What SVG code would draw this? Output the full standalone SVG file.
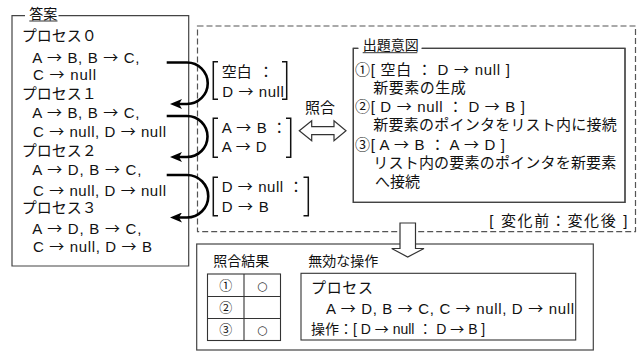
<svg xmlns="http://www.w3.org/2000/svg" width="639" height="352" viewBox="0 0 639 352">
<defs>
<style>
text { font-family: "Liberation Sans", "Noto Sans CJK JP", sans-serif; font-size: 15px; fill: #111; }
.ar, .cj { font-family: "Noto Sans CJK JP", sans-serif; }
.t14 { font-size: 14px; }
.num { font-size: 13px; font-family: "Noto Sans CJK JP", sans-serif; }
.ok { font-size: 12px; font-family: "DejaVu Sans", sans-serif; fill: #333; }
.mid { text-anchor: middle; }
.box { fill: #fff; stroke: #444; stroke-width: 1.2; }
.open { fill: none; stroke: #444; stroke-width: 1.2; }
.dash { fill: none; stroke: #555; stroke-width: 1.2; stroke-dasharray: 6 3; }
.ul { stroke: #333; stroke-width: 1; }
.br { fill: none; stroke: #111; stroke-width: 1.5; }
.curve { fill: none; stroke: #000; stroke-width: 2.6; }
.hollow { fill: #fff; stroke: #333; stroke-width: 1.2; }
.grid { fill: none; stroke: #333; stroke-width: 1.1; }
</style>
<marker id="ah" viewBox="0 0 12 10" refX="4" refY="5" markerWidth="12" markerHeight="10" markerUnits="userSpaceOnUse" orient="auto">
<path d="M0,0 L12,5 L0,10 L3,5 z" fill="#000"/>
</marker>
</defs>
<rect width="639" height="352" fill="#fff"/>

<!-- dashed area -->
<g id="compare-area">
<rect class="dash" x="197.5" y="26" width="438" height="205.7"/>
<text x="489.3" y="225.5" textLength="138" lengthAdjust="spacing">[ 変化前：変化後 ]</text>
</g>

<!-- answer box -->
<g id="answer">
<path class="open" d="M25,15.7 H12 V266 H188.7 V15.7 H58.5"/>
<text class="t14" x="29.3" y="18.5">答案</text>
<line class="ul" x1="29.3" y1="21" x2="57.5" y2="21"/>
<text class="cj" x="21.7" y="40.5">プロセス０</text>
<text x="32.3" y="63.3" textLength="107" lengthAdjust="spacing">A <tspan class="ar">→</tspan> B, B <tspan class="ar">→</tspan> C,</text>
<text x="33" y="80" textLength="63" lengthAdjust="spacing">C <tspan class="ar">→</tspan> null</text>
<text class="cj" x="21.7" y="99">プロセス１</text>
<text x="32.3" y="118.3" textLength="107" lengthAdjust="spacing">A <tspan class="ar">→</tspan> B, B <tspan class="ar">→</tspan> C,</text>
<text x="33" y="136.7" textLength="133" lengthAdjust="spacing">C <tspan class="ar">→</tspan> null, D <tspan class="ar">→</tspan> null</text>
<text class="cj" x="21.7" y="155.5">プロセス２</text>
<text x="32.3" y="175" textLength="109" lengthAdjust="spacing">A <tspan class="ar">→</tspan> D, B <tspan class="ar">→</tspan> C,</text>
<text x="33" y="195.7" textLength="133" lengthAdjust="spacing">C <tspan class="ar">→</tspan> null, D <tspan class="ar">→</tspan> null</text>
<text class="cj" x="21.7" y="212.5">プロセス３</text>
<text x="32.3" y="234" textLength="109" lengthAdjust="spacing">A <tspan class="ar">→</tspan> D, B <tspan class="ar">→</tspan> C,</text>
<text x="33" y="251.7" textLength="119" lengthAdjust="spacing">C <tspan class="ar">→</tspan> null, D <tspan class="ar">→</tspan> B</text>
</g>

<!-- bracket operations -->
<g id="op1">
<path class="br" d="M218,61.7 H213.3 V99.3 H218 M282,61.7 H286.7 V99.3 H282"/>
<text x="221.7" y="77">空白</text>
<text class="mid" x="266" y="77">：</text>
<text x="222.3" y="96.5" textLength="61.5" lengthAdjust="spacing">D <tspan class="ar">→</tspan> null</text>
</g>
<g id="op2">
<path class="br" d="M218,118.3 H213.3 V157.3 H218 M286,118.3 H290.7 V157.3 H286"/>
<text x="221.7" y="133.3" textLength="45" lengthAdjust="spacing">A <tspan class="ar">→</tspan> B</text>
<text class="mid" x="279.3" y="133.3">：</text>
<text x="221.7" y="151.7" textLength="45" lengthAdjust="spacing">A <tspan class="ar">→</tspan> D</text>
</g>
<g id="op3">
<path class="br" d="M218,177.3 H213.3 V215.7 H218 M303.5,177.3 H308.3 V215.7 H303.5"/>
<text x="221.7" y="191.7" textLength="61.5" lengthAdjust="spacing">D <tspan class="ar">→</tspan> null</text>
<text class="mid" x="296" y="191.7">：</text>
<text x="221.7" y="211.7" textLength="47" lengthAdjust="spacing">D <tspan class="ar">→</tspan> B</text>
</g>

<!-- intent box -->
<g id="intent">
<path class="box" d="M358.3,48.3 H353.3 V202.3 H625 V48.3 H421.7"/>
<path class="open" d="M358.3,48.3 H353.3 V202.3 H625 V48.3 H421.7"/>
<text class="t14" x="362.7" y="50">出題意図</text>
<line class="ul" x1="362.7" y1="52.7" x2="417.3" y2="52.7"/>
<text x="355" y="74.5" textLength="155" lengthAdjust="spacing"><tspan class="cj">①</tspan>[ 空白 ： D <tspan class="ar">→</tspan> null ]</text>
<text x="373.3" y="93" textLength="92.5" lengthAdjust="spacing">新要素の生成</text>
<text x="355" y="112" textLength="170" lengthAdjust="spacing"><tspan class="cj">②</tspan>[ D <tspan class="ar">→</tspan> null ： D <tspan class="ar">→</tspan> B ]</text>
<text x="373.3" y="130" textLength="243.5" lengthAdjust="spacing">新要素のポインタをリスト内に接続</text>
<text x="355" y="149.5" textLength="150" lengthAdjust="spacing"><tspan class="cj">③</tspan>[ A <tspan class="ar">→</tspan> B ： A <tspan class="ar">→</tspan> D ]</text>
<text x="373.3" y="168" textLength="243" lengthAdjust="spacing">リスト内の要素のポインタを新要素</text>
<text x="375" y="186.5">へ接続</text>
</g>

<!-- result box -->
<g id="result">
<rect class="box" x="196.7" y="244" width="396.6" height="106"/>
<text class="t14" x="213.3" y="266">照合結果</text>
<rect class="grid" x="207.5" y="274" width="73" height="66.5"/>
<path class="grid" d="M244,274 V340.5 M207.5,296.5 H280.5 M207.5,318.5 H280.5"/>
<text class="num mid" x="225.8" y="290">①</text>
<text class="ok mid" x="262.3" y="289.5">○</text>
<text class="num mid" x="225.8" y="312.2">②</text>
<text class="num mid" x="225.8" y="334.2">③</text>
<text class="ok mid" x="262.3" y="333.7">○</text>
<text class="t14" x="308.3" y="266">無効な操作</text>
<rect class="grid" x="301" y="273.3" width="274.7" height="66.7"/>
<text x="311" y="293" textLength="62" lengthAdjust="spacing">プロセス</text>
<text x="326" y="314" textLength="248" lengthAdjust="spacing">A <tspan class="ar">→</tspan> D, B <tspan class="ar">→</tspan> C, C <tspan class="ar">→</tspan> null, D <tspan class="ar">→</tspan> null</text>
<text class="t14" x="311" y="334.3">操作：[ D <tspan class="ar">→</tspan> null ： D <tspan class="ar">→</tspan> B ]</text>
</g>

<!-- connectors -->
<g id="connectors">
<path class="curve" d="M166.7,62.5 H187 A20.75,20.75 0 0 1 187,104 H178" marker-end="url(#ah)"/>
<path class="curve" d="M166.7,116 H187 A20.5,20.5 0 0 1 187,157 H178" marker-end="url(#ah)"/>
<path class="curve" d="M166.7,175 H187 A21.25,21.25 0 0 1 187,217.5 H178" marker-end="url(#ah)"/>
<text x="305" y="112.5">照合</text>
<polygon class="hollow" points="299.3,130.7 311.7,120.7 311.7,126.7 334,126.7 334,120.7 346,130.7 334,140.7 334,134.7 311.7,134.7 311.7,140.7"/>
<polygon class="hollow" points="400,223 415.5,223 415.5,248.5 424,248.5 407.7,257 391.7,248.5 400,248.5"/>
</g>
</svg>
